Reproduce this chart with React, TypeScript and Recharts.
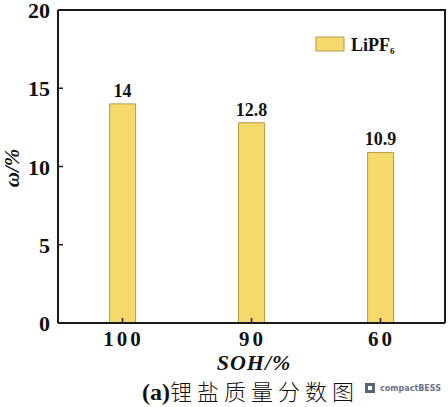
import React from "react";
import { BarChart, Bar, XAxis, YAxis, LabelList } from "recharts";

const categories = ["100", "90", "60"];
const lipf6Values = [14, 12.8, 10.9];
const yTicks = [0, 5, 10, 15, 20];
const seriesName = "LiPF";
const seriesSub = "6";

const data = categories.map((c, i) => ({ soh: c, lipf6: lipf6Values[i] }));

const SERIF = "'Liberation Serif', 'DejaVu Serif', 'Times New Roman', serif";
const AXIS = "#1a1a1a";
const FILL = "#F5D96B";
const EDGE = "#B59B45";

const serifBold = (size: number, extra: any = {}) => ({
  fontFamily: SERIF,
  fontWeight: 700,
  fontSize: size,
  ...extra,
});

const YTick = (props: any) => {
  const { x, y, payload } = props;
  return (
    <g>
      <line x1={x} x2={x + 5} y1={y} y2={y} stroke={AXIS} strokeWidth={1.5} />
      <text x={x - 8} y={y + 8} textAnchor="end" style={serifBold(22)} fill="#111">
        {payload.value}
      </text>
    </g>
  );
};

const XTick = (props: any) => {
  const { x, y, payload } = props;
  return (
    <g>
      <line x1={x} x2={x} y1={y} y2={y - 5} stroke={AXIS} strokeWidth={1.5} />
      <text x={x + 1} y={y + 23} textAnchor="middle" style={serifBold(21, { letterSpacing: 3 })} fill="#111">
        {payload.value}
      </text>
    </g>
  );
};

export default function App() {
  return (
    <div style={{ position: "absolute", left: 0, top: 0, width: 448, height: 407, background: "#fff" }}>
      <BarChart
        width={448}
        height={407}
        data={data}
        margin={{ top: 10, right: 3, left: 18, bottom: 54 }}
        barCategoryGap="40%"
      >
        <XAxis
          dataKey="soh"
          axisLine={{ stroke: AXIS, strokeWidth: 2 }}
          tickLine={false}
          tickSize={0}
          tickMargin={0}
          tick={<XTick />}
          height={30}
          interval={0}
        />
        <YAxis
          domain={[0, 20]}
          ticks={yTicks}
          axisLine={{ stroke: AXIS, strokeWidth: 2 }}
          tickLine={false}
          tickSize={0}
          tickMargin={0}
          tick={<YTick />}
          width={40}
          interval={0}
        />
        <Bar dataKey="lipf6" fill={FILL} stroke={EDGE} strokeWidth={1} isAnimationActive={false}>
          <LabelList
            dataKey="lipf6"
            position="top"
            offset={7}
            style={serifBold(18, { fill: "#111" })}
          />
        </Bar>
      </BarChart>
      <svg width={448} height={407} style={{ position: "absolute", left: 0, top: 0, pointerEvents: "none" }}>
        <polyline points="58,10 445,10 445,323" fill="none" stroke={AXIS} strokeWidth={2} />
        <rect x={316} y={37} width={28} height={14} fill={FILL} stroke={EDGE} strokeWidth={1} />
        <text x={351} y={51} style={serifBold(18)} fill="#111">
          {seriesName}
          <tspan fontSize={9} dy={3}>{seriesSub}</tspan>
        </text>
        <text
          transform="translate(19,168) rotate(-90)"
          textAnchor="middle"
          style={serifBold(21, { fontStyle: "italic" })}
          fill="#111"
        >
          ω/%
        </text>
        <text x={254} y={370} textAnchor="middle" style={serifBold(22, { fontStyle: "italic", letterSpacing: 1 })} fill="#111">
          SOH/%
        </text>
        <text x={142} y={400} fill="#111">
          <tspan style={serifBold(24)}>(a)</tspan>
          <tspan style={{ fontFamily: "'Noto Sans CJK SC', sans-serif", fontWeight: 300, fontSize: 22, letterSpacing: 5 }}>
            锂盐质量分数图
          </tspan>
        </text>
        <rect x={365} y={383} width={10} height={10} fill="#5b6474" />
        <rect x={368} y={386} width={4} height={4} fill="#fff" />
        <text x={380} y={391} style={{ fontFamily: "'DejaVu Sans', sans-serif", fontWeight: 700, fontSize: 8 }} fill="#6b7384">
          compactBESS
        </text>
      </svg>
    </div>
  );
}
